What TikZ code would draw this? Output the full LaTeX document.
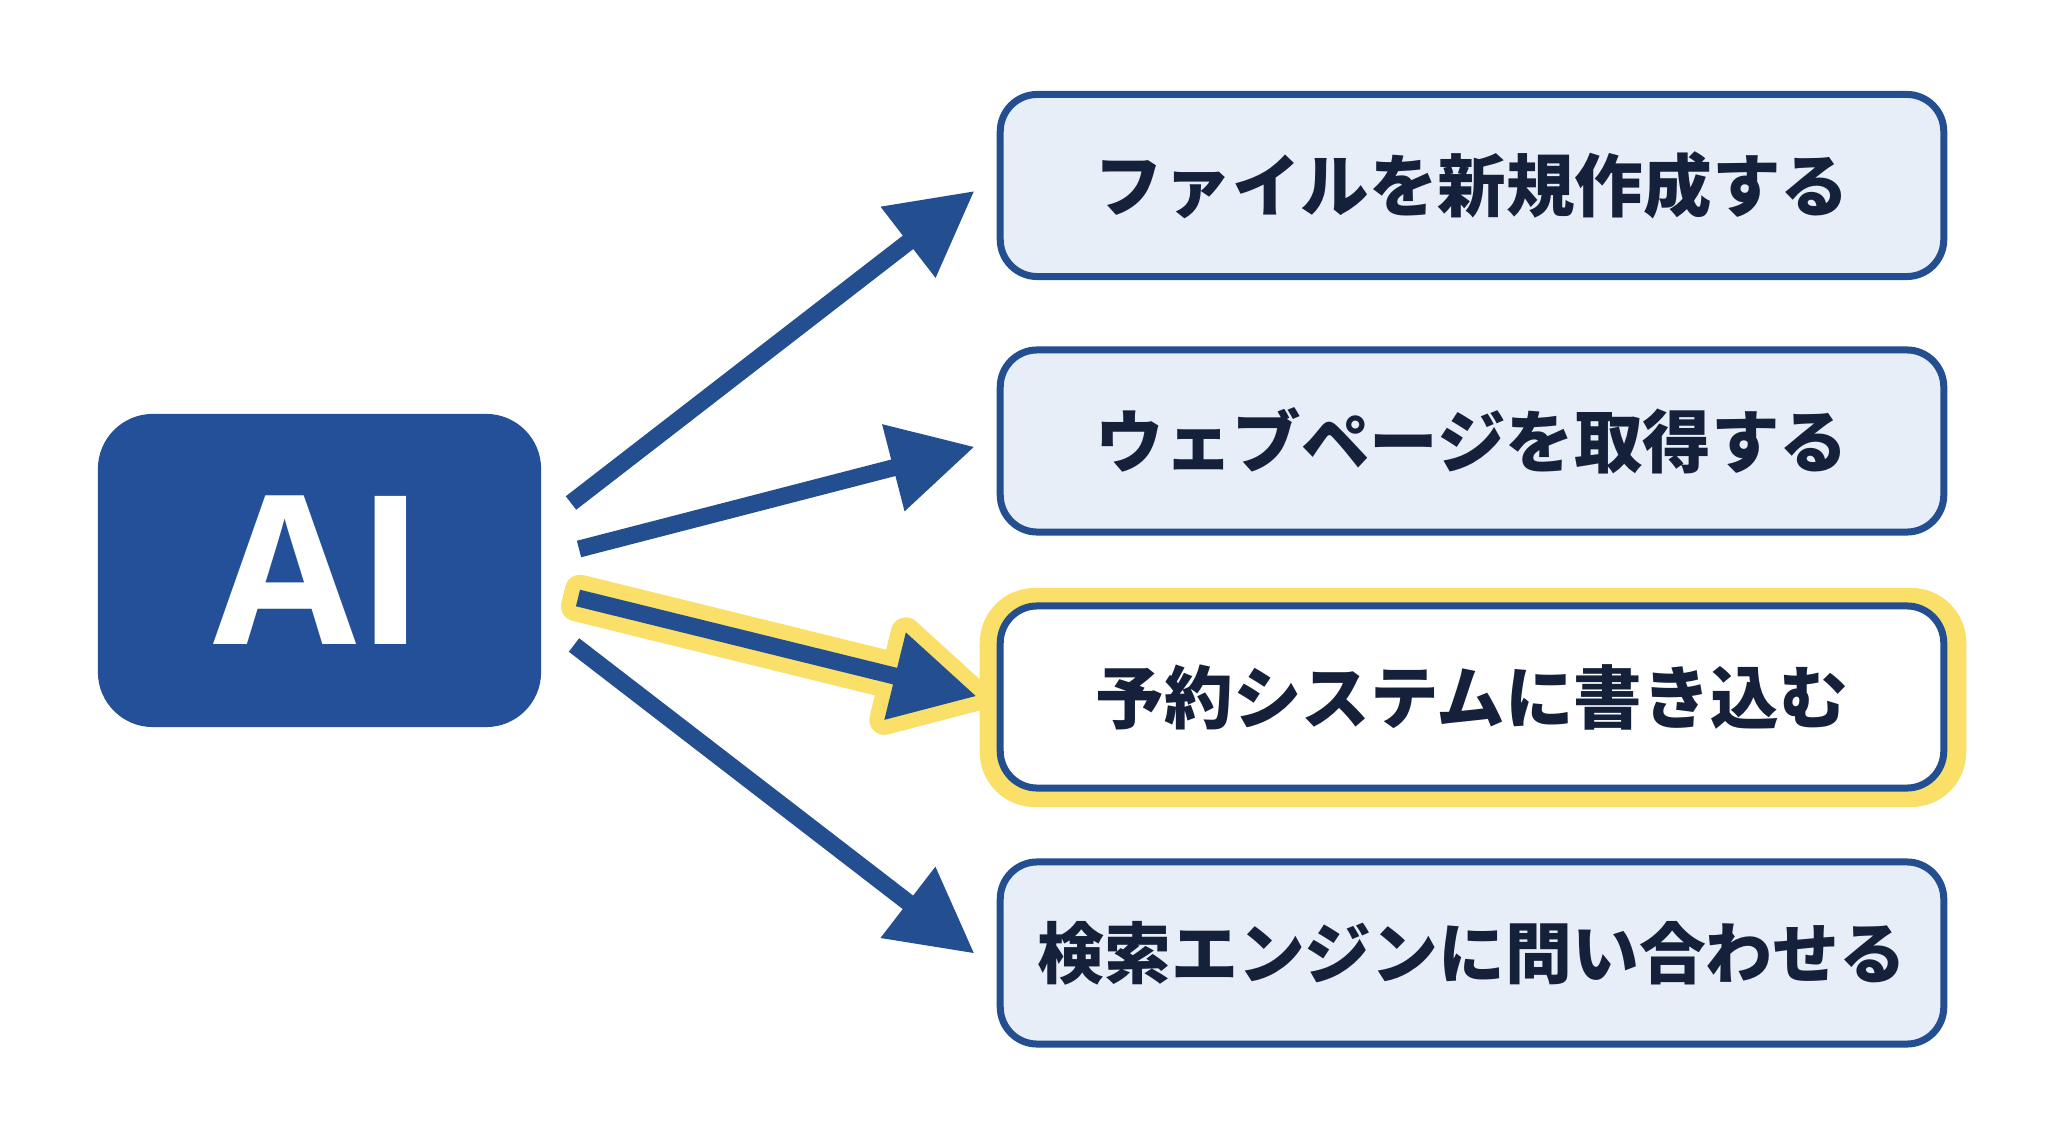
\documentclass[tikz,border=0pt]{standalone}
\usepackage{fontspec}
\setmainfont{Open Sans}
\newfontfamily\jpfont{Noto Sans CJK JP}
\usetikzlibrary{calc}
\definecolor{navy}{HTML}{234F91}
\definecolor{aiblue}{HTML}{24509A}
\definecolor{boxfill}{HTML}{E7EEF8}
\definecolor{txt}{HTML}{15203B}
\definecolor{hl}{HTML}{FADF68}
% #1 style, #2 tail, #3 tip
\newcommand\fatarrow[3][]{%
  \coordinate (fa-c) at ($(#3)!0.83cm!(#2)$);
  \path[#1] ($(#2)!0.085cm!90:(#3)$) -- ($(fa-c)!0.085cm!90:(#3)$)
    -- ($(fa-c)!0.45cm!90:(#3)$) -- (#3) -- ($(fa-c)!0.45cm!-90:(#3)$)
    -- ($(fa-c)!0.085cm!-90:(#3)$) -- ($(#2)!0.085cm!-90:(#3)$) -- cycle;}
\tikzset{
  taskbox/.style={draw=navy, line width=0.07cm, fill=boxfill, rounded corners=0.37cm,
    minimum width=9.43cm, minimum height=1.82cm, inner sep=0pt, text=txt,
    font=\jpfont\bfseries\fontsize{19.5pt}{21pt}\selectfont},
  aibox/.style={fill=aiblue, rounded corners=0.55cm, minimum width=4.43cm,
    minimum height=3.13cm, inner sep=0pt, text=white,
    font=\bfseries\fontsize{59pt}{60pt}\selectfont},
  hlbox/.style={fill=hl, rounded corners=0.55cm, minimum width=9.86cm,
    minimum height=2.19cm, inner sep=0pt},
  arrowfill/.style={fill=navy},
  arrowglow/.style={fill=hl, draw=hl, line width=0.3cm, line join=round}
}
\begin{document}
\begin{tikzpicture}[x=0.01cm, y=-0.01cm]
\useasboundingbox[fill=white] (0,0) rectangle (2048,1143);
\node[aibox] (ai) at (319.5,570.5) {AI};
\node[hlbox] (hl) at (1473,697.5) {};
\node[taskbox] (b1) at (1472,185.5) {ファイルを新規作成する};
\node[taskbox] (b2) at (1472,441) {ウェブページを取得する};
\node[taskbox, fill=white] (b3) at (1472,697) {予約システムに書き込む};
\node[taskbox, font=\jpfont\bfseries\fontsize{19pt}{21pt}\selectfont] (b4) at (1472,953) {検索エンジンに問い合わせる};
\coordinate (t1) at (571,503);
\coordinate (h1) at ($(b1.west)+(-23,6)$);
\coordinate (t2) at (579,549);
\coordinate (h2) at ($(b2.west)+(-23,6)$);
\coordinate (t3) at (578,598);
\coordinate (h3) at ($(b3.west)+(-21,-1)$);
\coordinate (t4) at (574,645);
\coordinate (h4) at ($(b4.west)+(-23,0)$);
\fatarrow[arrowfill]{t1}{h1}
\fatarrow[arrowfill]{t2}{h2}
\fatarrow[arrowglow]{t3}{h3}
\fatarrow[arrowfill]{t3}{h3}
\fatarrow[arrowfill]{t4}{h4}
\end{tikzpicture}
\end{document}
